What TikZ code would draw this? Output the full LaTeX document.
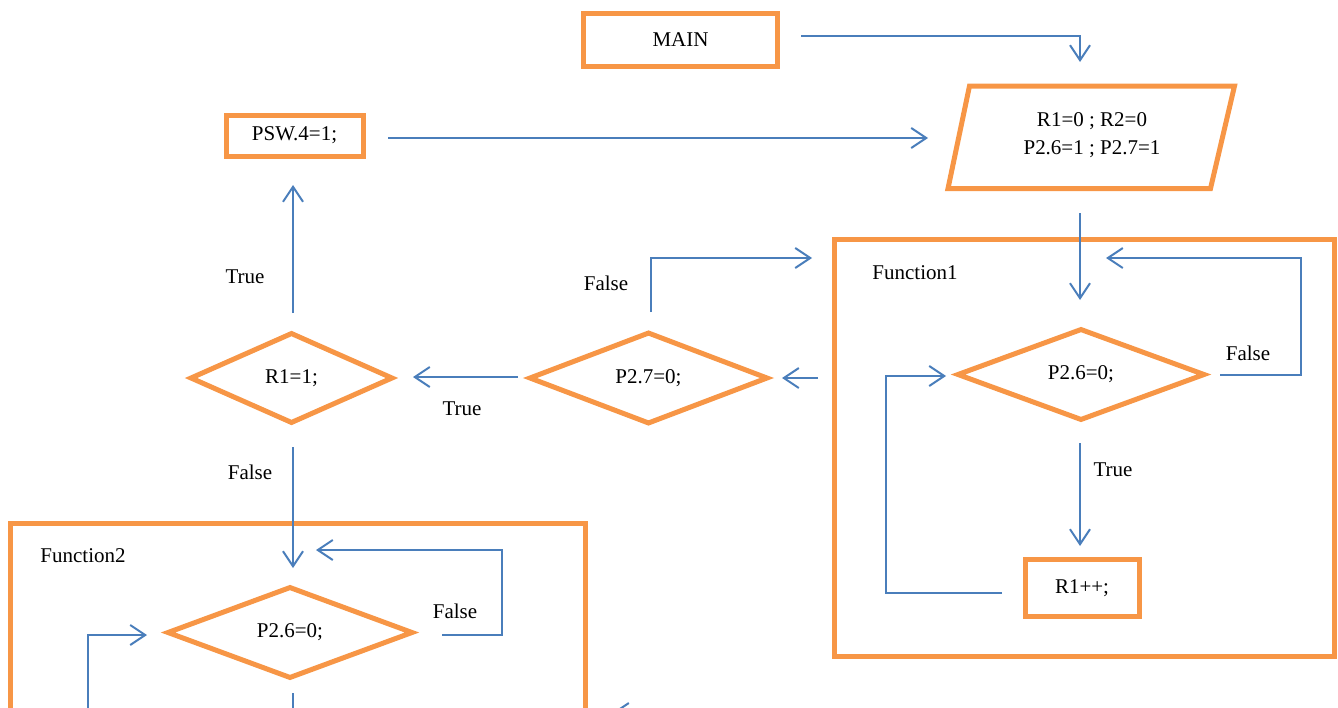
\documentclass[tikz,border=0pt]{standalone}
\usepackage{fontspec}
\setmainfont{Liberation Serif}
\usetikzlibrary{shapes.geometric,arrows.meta}
\definecolor{fcorange}{HTML}{F79646}
\definecolor{fcblue}{HTML}{4A7EBB}
\begin{document}
\begin{tikzpicture}[x=1pt,y=-1pt,
  every node/.style={font=\fontsize{21}{28}\selectfont},
  box/.style={draw=fcorange,line width=5pt,rectangle,inner sep=0pt},
  dec/.style={draw=fcorange,line width=5pt,diamond,inner sep=0pt,aspect=2.6},
  arr/.style={draw=fcblue,line width=2pt,-{Straight Barb[length=15pt,width=20pt]}},
  lin/.style={draw=fcblue,line width=2pt},
  lbl/.style={inner sep=0pt}]
\useasboundingbox (0,0) rectangle (1338,707);
\clip (0,0) rectangle (1338,707);

% containers
\node[box,minimum width=500pt,minimum height=417pt] (f1) at (1084,447.5) {};
\node[lbl] (f1lbl) at (915,273) {Function1};
\node[box,minimum width=575pt,minimum height=300pt] (f2) at (298,673.5) {};
\node[lbl] (f2lbl) at (83,556) {Function2};

% process boxes
\node[box,minimum width=193.6pt,minimum height=52.6pt] (main) at (680.5,40) {MAIN};
\node[box,minimum width=137pt,minimum height=41pt] (psw) at (294.5,135.5) {PSW.4=1;};
\node[box,minimum width=114pt,minimum height=57.5pt] (inc) at (1082,587.8) {R1++;};

% parallelogram
\draw[draw=fcorange,line width=5pt] (948,188.5) -- (969.5,86) -- (1234.5,86) -- (1210.5,188.5) -- cycle;
\node[lbl,align=center] (init) at (1092,135) {R1=0 ; R2=0\\P2.6=1 ; P2.7=1};

% decisions
\node[dec,minimum width=248pt,minimum height=92pt] (d1) at (1081,374.5) {P2.6=0;};
\node[dec,minimum width=239pt,minimum height=92pt] (d2) at (648.5,378) {P2.7=0;};
\node[dec,minimum width=203pt,minimum height=91pt] (d3) at (291.5,378) {R1=1;};
\node[dec,minimum width=246pt,minimum height=92pt] (d4) at (290,632.5) {P2.6=0;};

% labels
\node[lbl] (l1) at (1248,353) {False};
\node[lbl] (l2) at (1113,470) {True};
\node[lbl] (l3) at (606,283) {False};
\node[lbl] (l4) at (462,409) {True};
\node[lbl] (l5) at (245,277) {True};
\node[lbl] (l6) at (250,472) {False};
\node[lbl] (l7) at (455,611) {False};

% connector end points
\coordinate (a1s) at (801,35.5);
\coordinate (a1e) at (1080,62);
\coordinate (a2s) at (388,138);
\coordinate (a2e) at (928,138);
\coordinate (a3s) at (1080,213);
\coordinate (a3e) at (1080,300);
\coordinate (b1s) at (1220,375);
\coordinate (b1c) at (1300.5,258);
\coordinate (b1e) at (1106,258);
\coordinate (b2s) at (1080,443);
\coordinate (b2e) at (1080,546);
\coordinate (b3s) at (1002,593);
\coordinate (b3c) at (886,376);
\coordinate (b3e) at (946,376);
\coordinate (c1s) at (818,378);
\coordinate (c1e) at (782,378);
\coordinate (c2s) at (651,312);
\coordinate (c2e) at (812,258);
\coordinate (c3s) at (518,377);
\coordinate (c3e) at (413,377);
\coordinate (c4s) at (293,313);
\coordinate (c4e) at (293,185);
\coordinate (c5s) at (293,447);
\coordinate (c5e) at (293,568);
\coordinate (e1s) at (442,635);
\coordinate (e1c) at (502,550);
\coordinate (e1e) at (316,550);
\coordinate (e2s) at (88,730);
\coordinate (e2e) at (147,635);
\coordinate (e3s) at (293,693);
\coordinate (e3e) at (293,730);
\coordinate (e4s) at (700,713);
\coordinate (e4e) at (612,713);

% connectors
\draw[arr] (a1s) -| (a1e);
\draw[arr] (a2s) -- (a2e);
\draw[arr] (a3s) -- (a3e);
\draw[arr] (b1s) -| (b1c) -- (b1e);
\draw[arr] (b2s) -- (b2e);
\draw[arr] (b3s) -| (b3c) -- (b3e);
\draw[arr] (c1s) -- (c1e);
\draw[arr] (c2s) |- (c2e);
\draw[arr] (c3s) -- (c3e);
\draw[arr] (c4s) -- (c4e);
\draw[arr] (c5s) -- (c5e);
\draw[arr] (e1s) -| (e1c) -- (e1e);
\draw[arr] (e2s) |- (e2e);
\draw[lin] (e3s) -- (e3e);
\draw[arr] (e4s) -- (e4e);
\end{tikzpicture}
\end{document}
